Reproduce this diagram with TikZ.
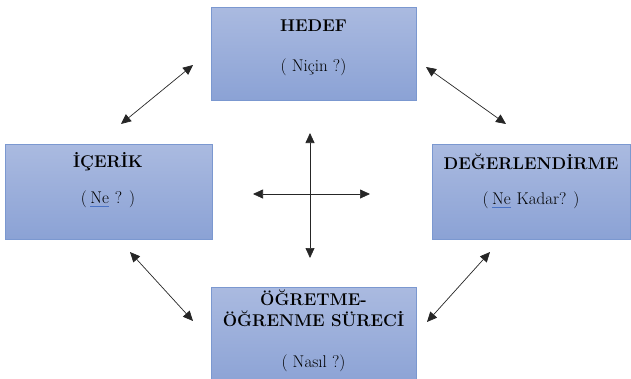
\documentclass[tikz,border=0pt]{standalone}
\usepackage{fontspec}
\usepackage{tikz}
\usetikzlibrary{arrows.meta}

\tikzset{
  kutu/.style={draw=boxedge, line width=0.6pt, top color=boxtop, bottom color=boxbot,
    minimum width=#1, inner sep=0pt, anchor=north west},
  baslik/.style={font=\fontsize{17}{21}\selectfont\bfseries, align=center, inner sep=0pt},
  soru/.style={font=\fontsize{17}{21}\selectfont, inner sep=0pt},
  ok/.style={draw=black!85, line width=0.7pt,
    {Triangle[length=10pt,width=9pt]}-{Triangle[length=10pt,width=9pt]}}
}
\definecolor{boxtop}{HTML}{AABAE0}
\definecolor{boxbot}{HTML}{8BA2D5}
\definecolor{boxedge}{HTML}{7B98D0}
\definecolor{squiggle}{HTML}{4A72C4}
\newcommand{\altcizgi}[1]{\tikz[baseline=(w.base)]{\node[inner sep=0pt] (w) {#1};
  \draw[squiggle, line width=0.8pt] ([yshift=-2.5pt]w.south west) -- ([yshift=-2.5pt]w.south east);}}

\begin{document}
\begin{tikzpicture}[x=1pt, y=-1pt]
    \useasboundingbox (0,0) rectangle (631,378);

    % Define nodes
    \node[kutu=205pt, minimum height=93pt] (hedef) at (211,7) {};
    \node[kutu=207pt, minimum height=95pt] (icerik) at (5,144) {};
    \node[kutu=198pt, minimum height=95pt] (deger) at (432,144) {};
    \node[kutu=205pt, minimum height=100pt] (surec) at (211,287) {};

    \node[baslik] (hedefB) at (313.5,26) {HEDEF};
    \node[soru] (hedefS) at (313.5,67) {( Niçin ?)};

    \node[baslik] (icerikB) at (108,162) {İÇERİK};
    \node[soru] (icerikS) at (108,199) {(\,\altcizgi{Ne} ? )};

    \node[baslik] (degerB) at (531,162) {DEĞERLENDİRME};
    \node[soru] (degerS) at (531,200) {(\,\altcizgi{Ne} Kadar? )};

    \node[baslik] (surecB) at (313.5,308.5) {ÖĞRETME-\\ÖĞRENME SÜRECİ};
    \node[soru] (surecS) at (313.5,363) {( Nasıl ?)};

    % arrow ends
    \coordinate (a1) at (121,124);  \coordinate (a2) at (193,65);
    \coordinate (b1) at (426,67);   \coordinate (b2) at (506,124);
    \coordinate (c1) at (130,252);  \coordinate (c2) at (193,321);
    \coordinate (d1) at (490,252);  \coordinate (d2) at (427,322);
    \coordinate (up) at (310,133);  \coordinate (down) at (310,258);
    \coordinate (left) at (253,194); \coordinate (right) at (370,194);

    % Draw arrows
    \draw[ok] (a1) -- (a2);
    \draw[ok] (b1) -- (b2);
    \draw[ok] (c1) -- (c2);
    \draw[ok] (d1) -- (d2);
    \draw[ok] (up) -- (down); % the cross in the middle
    \draw[ok] (left) -- (right);
\end{tikzpicture}
\end{document}
